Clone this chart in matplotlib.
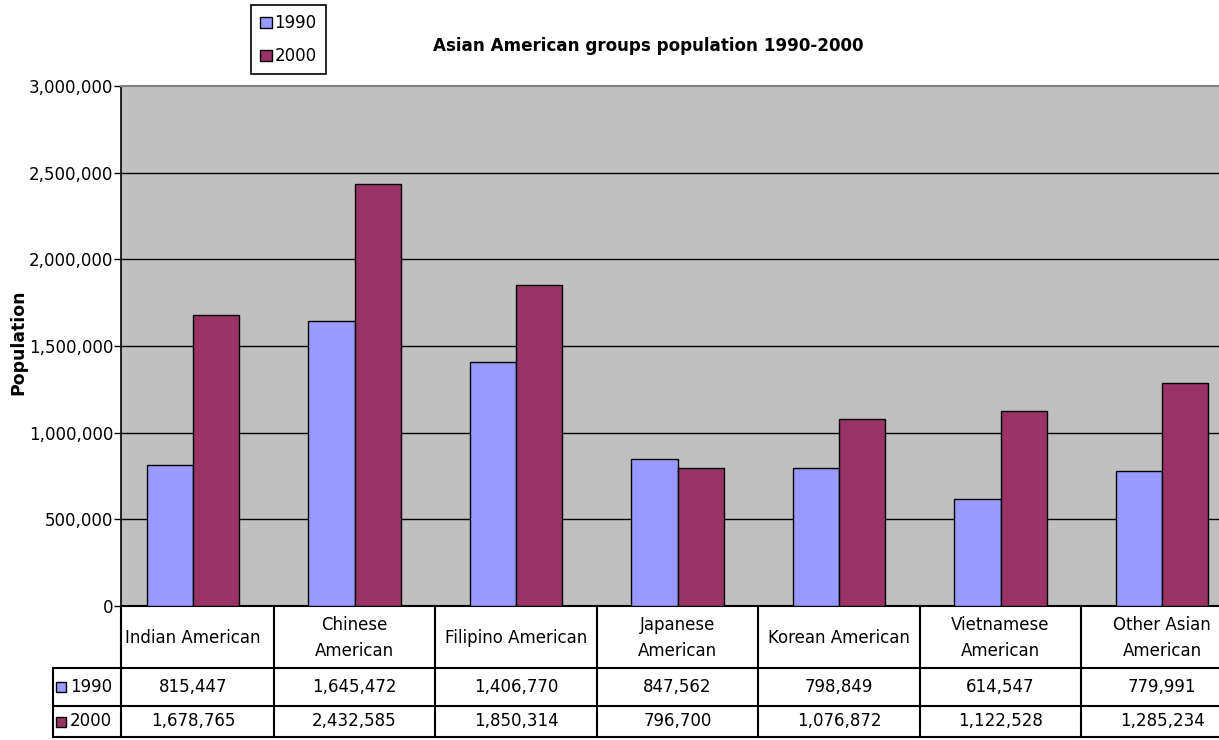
import numpy as np
import matplotlib
matplotlib.use("Agg")
import matplotlib.pyplot as plt
from matplotlib.patches import Rectangle
from matplotlib.ticker import FuncFormatter

# Data
categories = ["Indian American", "Chinese\nAmerican", "Filipino American",
              "Japanese\nAmerican", "Korean American", "Vietnamese\nAmerican",
              "Other Asian\nAmerican"]
series_names = ["1990", "2000"]
pop_1990 = [815447, 1645472, 1406770, 847562, 798849, 614547, 779991]
pop_2000 = [1678765, 2432585, 1850314, 796700, 1076872, 1122528, 1285234]
title = "Asian American groups population 1990-2000"
ylabel = "Population"

colors = ["#9999FF", "#993366"]

W, H = 1219, 740
fig = plt.figure(figsize=(W / 100, H / 100), dpi=100)
plt.rcParams["font.family"] = ["DejaVu Sans"]
FS = 12


def fx(px):
    return px / W


def fy(py):
    return 1 - py / H


# Plot area (extends past the right edge of the figure)
left_px, right_px, top_px, bot_px = 121, 1243, 86, 606
ax = fig.add_axes([fx(left_px), fy(bot_px), fx(right_px - left_px), (bot_px - top_px) / H])
ax.set_facecolor("#C0C0C0")

spacing_px = 161.5
center0_px = 193
xlo = -(center0_px - left_px) / spacing_px
xhi = (right_px - center0_px) / spacing_px
ax.set_xlim(xlo, xhi)
ax.set_ylim(0, 3_000_000)

x = np.arange(len(categories))
bw = 0.285
bars1 = ax.bar(x - bw / 2, pop_1990, bw, color=colors[0], edgecolor="black", linewidth=1.0,
               label=series_names[0], zorder=3)
bars2 = ax.bar(x + bw / 2, pop_2000, bw, color=colors[1], edgecolor="black", linewidth=1.0,
               label=series_names[1], zorder=3)

ax.set_yticks(np.arange(0, 3_000_001, 500_000))
ax.yaxis.set_major_formatter(FuncFormatter(lambda v, p: f"{int(v):,}"))
ax.tick_params(axis="y", direction="out", length=5, width=1, pad=0.5, labelsize=FS, colors="black")
ax.set_xticks([])
for yv in ax.get_yticks()[1:-1]:
    ax.axhline(yv, color="black", linewidth=1.0, zorder=1)
ax.spines["top"].set_color("#808080")
ax.spines["top"].set_linewidth(1.5)
ax.spines["right"].set_visible(False)
ax.spines["left"].set_color("black")
ax.spines["left"].set_linewidth(1.2)
ax.spines["bottom"].set_color("black")
ax.spines["bottom"].set_linewidth(1.5)

# Data table below the plot area
tbl_left_px, tbl_bot_px = 52, 738
tax = fig.add_axes([fx(tbl_left_px), fy(tbl_bot_px), fx(right_px - tbl_left_px),
                    (tbl_bot_px - bot_px) / H])
tax.set_axis_off()
txlo = xlo - (left_px - tbl_left_px) / spacing_px
tax.set_xlim(txlo, xhi)
tax.set_ylim(tbl_bot_px, bot_px)

row_lines = [668, 706, 737]
lw_t = 1.5
for ry in row_lines:
    tax.plot([txlo, xhi], [ry, ry], color="black", lw=lw_t, solid_capstyle="butt", clip_on=False)
tax.plot([txlo + 1 / spacing_px] * 2, [row_lines[0], row_lines[-1]], color="black", lw=lw_t, clip_on=False)
tax.plot([xlo] * 2, [bot_px, row_lines[-1]], color="black", lw=lw_t, clip_on=False)
for k in range(len(categories) - 1):
    tax.plot([k + 0.5] * 2, [bot_px, row_lines[-1]], color="black", lw=lw_t, clip_on=False)

for k, name in enumerate(categories):
    tax.text(k, (bot_px + row_lines[0]) / 2 + 1, name, ha="center", va="center",
             fontsize=FS, linespacing=1.5)

rows = [pop_1990, pop_2000]
row_centers = [(row_lines[0] + row_lines[1]) / 2, (row_lines[1] + row_lines[2]) / 2]
for r, (vals, yc) in enumerate(zip(rows, row_centers)):
    for k, v in enumerate(vals):
        tax.text(k, yc, f"{v:,}", ha="center", va="center", fontsize=FS)
    tax.add_patch(Rectangle((txlo + 3.5 / spacing_px, yc - 5), 10 / spacing_px, 10,
                            facecolor=colors[r], edgecolor="black", lw=1.0, clip_on=False))
    tax.text(txlo + 18 / spacing_px, yc, series_names[r], ha="left", va="center", fontsize=FS)

# Title, axis label and legend
fig.text(fx(648), fy(46), title, ha="center", va="center", fontsize=12.1, fontweight="bold")
fig.text(fx(18), fy(342), ylabel, ha="center", va="center", rotation=90,
         fontsize=12.4, fontweight="bold")

leg = fig.legend(handles=[bars1, bars2], loc="upper left",
                 bbox_to_anchor=(fx(251), fy(5)), fontsize=FS, frameon=True,
                 fancybox=False, framealpha=1, edgecolor="black",
                 handlelength=0.7, handleheight=0.7, handletextpad=0.15,
                 labelspacing=0.9, borderpad=0.55, borderaxespad=0)
leg.get_frame().set_linewidth(1.2)

fig.savefig("out.png", dpi=100, facecolor="white")
